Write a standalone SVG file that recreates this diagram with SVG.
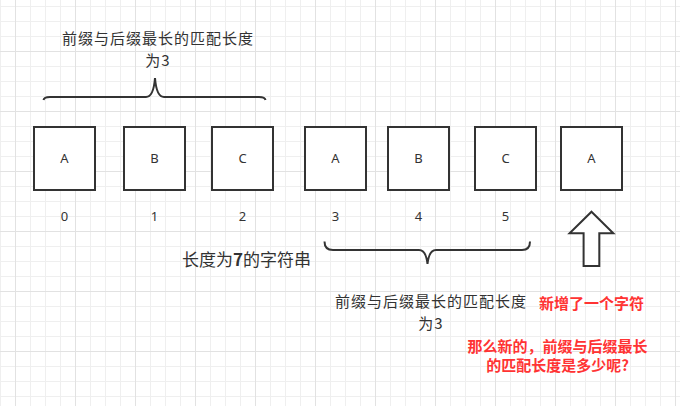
<svg xmlns="http://www.w3.org/2000/svg" width="680" height="406" viewBox="0 0 680 406">
<defs>
<pattern id="grid" patternUnits="userSpaceOnUse" x="15" y="51" width="60" height="60">
<path d="M15.5 0V60M30.5 0V60M45.5 0V60M0 15.5H60M0 30.5H60M0 45.5H60" stroke="#efefef" stroke-width="1" fill="none"/>
<path d="M0.5 0V60M0 0.5H60" stroke="#e2e2e2" stroke-width="1" fill="none"/>
</pattern>
<style>
.box{fill:#fff;stroke:#333;stroke-width:2}
.lt{font-family:"Noto Sans","Liberation Sans",sans-serif;font-size:13px;fill:#333;text-anchor:middle}
.lbl{font-family:"Noto Sans CJK SC",sans-serif;font-size:15px;letter-spacing:1px;fill:#333;text-anchor:middle}
.red{font-family:"Noto Sans CJK SC",sans-serif;font-size:15px;font-weight:bold;fill:#ff3333;text-anchor:middle}
.brace{fill:none;stroke:#333;stroke-width:2}
</style>
</defs>
<rect width="680" height="406" fill="#fff"/>
<rect width="680" height="406" fill="url(#grid)"/>

<g id="n0"><rect class="box" x="34" y="127" width="61" height="63"/><text class="lt" x="64.5" y="163">A</text></g>
<g id="n1"><rect class="box" x="124" y="127" width="61" height="63"/><text class="lt" x="154.5" y="163">B</text></g>
<g id="n2"><rect class="box" x="212" y="127" width="61" height="63"/><text class="lt" x="242.5" y="163">C</text></g>
<g id="n3"><rect class="box" x="305" y="127" width="61" height="63"/><text class="lt" x="335.5" y="163">A</text></g>
<g id="n4"><rect class="box" x="388" y="127" width="61" height="63"/><text class="lt" x="418.5" y="163">B</text></g>
<g id="n5"><rect class="box" x="475" y="127" width="61" height="63"/><text class="lt" x="505.5" y="163">C</text></g>
<g id="n6"><rect class="box" x="561" y="127" width="61" height="63"/><text class="lt" x="591.5" y="163">A</text></g>

<g id="indices">
<text class="lt" x="64.5" y="220.5">0</text>
<text class="lt" x="154.5" y="220.5">1</text>
<text class="lt" x="242.5" y="220.5">2</text>
<text class="lt" x="335.5" y="220.5">3</text>
<text class="lt" x="418.5" y="220.5">4</text>
<text class="lt" x="505.5" y="220.5">5</text>
</g>

<g id="connectors">
<path id="brace-top" class="brace" d="M43.5 100 Q44 97 50 97 L146 97 Q153.5 97 155 78 Q156.5 97 164 97 L259 97 Q265 97 265.5 100"/>
<path id="brace-bottom" class="brace" d="M324.5 241.5 Q324.5 250 333 250 L419 250 Q426 250 427.5 264 Q429 250 436 250 L522 250 Q530 250 530 241.5"/>
</g>

<g id="arrow">
<polygon points="591.5,211.7 613.3,233.3 599.3,233.3 599.3,266 583.6,266 583.6,233.3 569.6,233.3" fill="#fff" stroke="#333" stroke-width="2" stroke-linejoin="miter"/>
</g>

<g id="label-top">
<text class="lbl"><tspan x="158" y="43.5">前缀与后缀最长的匹配长度</tspan><tspan x="158" y="65.5">为3</tspan></text>
</g>
<g id="label-bottom">
<text class="lbl"><tspan x="431" y="307">前缀与后缀最长的匹配长度</tspan><tspan x="431" y="329">为3</tspan></text>
</g>
<g id="label-length">
<text class="lbl" x="182" y="265.5" style="text-anchor:start;font-size:17px;letter-spacing:0">长度为<tspan font-weight="bold">7</tspan>的字符串</text>
</g>
<g id="label-new">
<text class="red" x="591.5" y="309">新增了一个字符</text>
</g>
<g id="label-question">
<text class="red"><tspan x="557.5" y="351.5">那么新的，前缀与后缀最长</tspan><tspan x="557.5" y="370.5">的匹配长度是多少呢?</tspan></text>
</g>
</svg>
